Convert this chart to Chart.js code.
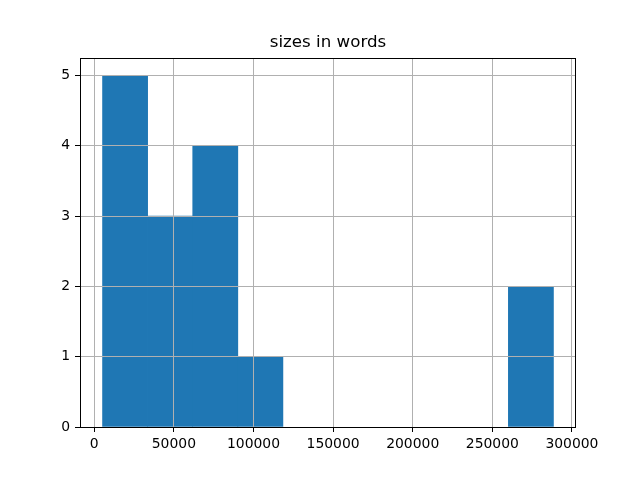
<!DOCTYPE html>
<html>
<head>
<meta charset="utf-8">
<script src="https://cdn.jsdelivr.net/npm/chart.js@4.4.1/dist/chart.umd.min.js"></script>
<style>
  html, body { margin: 0; padding: 0; background: #ffffff; }
  canvas { display: block; }
</style>
</head>
<body>
<canvas id="c" width="640" height="480"></canvas>
<script>
const chartTitle = "sizes in words";
const binEdges = [5200, 33520, 61840, 90160, 118480, 146800, 175120, 203440, 231760, 260080, 288400];
const counts = [5, 3, 4, 1, 0, 0, 0, 0, 0, 2];
const xTicks = [0, 50000, 100000, 150000, 200000, 250000, 300000];
const yTicks = [0, 1, 2, 3, 4, 5];

const barData = counts.map((c, i) => ({ x: (binEdges[i] + binEdges[i + 1]) / 2, y: c === 0 ? null : c }));
const span = binEdges[binEdges.length - 1] - binEdges[0];
const xMin = binEdges[0] - 0.05 * span;
const xMax = binEdges[binEdges.length - 1] + 0.05 * span;
const yMax = Math.max(...counts) * 1.05;

const tickFont = { family: "'DejaVu Sans'", size: 13.9 };

const frame = {
  id: 'frame',
  afterDraw(chart) {
    const a = chart.chartArea, ctx = chart.ctx;
    ctx.save();
    ctx.strokeStyle = '#000000';
    ctx.lineWidth = 1;
    ctx.strokeRect(Math.round(a.left) + 0.5, Math.round(a.top) + 0.5, Math.round(a.right - a.left) - 1, Math.round(a.bottom - a.top));
    ctx.restore();
  }
};

new Chart(document.getElementById('c'), {
  type: 'bar',
  plugins: [frame],
  data: {
    datasets: [{
      data: barData,
      backgroundColor: '#1f77b4',
      borderWidth: 0,
      barPercentage: 1.0,
      categoryPercentage: 1.0
    }]
  },
  options: {
    responsive: false,
    animation: false,
    devicePixelRatio: 1,
    layout: { padding: { left: 0, right: 64, top: 0, bottom: 0 } },
    plugins: {
      legend: { display: false },
      tooltip: { enabled: false },
      title: {
        display: true,
        fullSize: false,
        text: chartTitle,
        color: '#000000',
        font: { family: "'DejaVu Sans'", size: 16.67, weight: 'normal', lineHeight: 1.2 },
        padding: { top: 33, bottom: 5 }
      }
    },
    scales: {
      x: {
        type: 'linear',
        position: 'bottom',
        offset: false,
        min: xMin,
        max: xMax,
        afterBuildTicks: (s) => { s.ticks = xTicks.map(v => ({ value: v })); },
        afterFit: (s) => { s.height = 53; },
        ticks: {
          includeBounds: false,
          color: '#000000',
          font: tickFont,
          padding: 4,
          maxRotation: 0,
          autoSkip: false,
          callback: (v) => String(v)
        },
        grid: {
          z: 1,
          offset: false,
          color: '#b0b0b0',
          lineWidth: 1,
          drawTicks: true,
          tickLength: 5,
          tickColor: '#000000',
          tickWidth: 1
        },
        border: { display: false, z: 2 }
      },
      y: {
        type: 'linear',
        position: 'left',
        min: 0,
        max: yMax,
        afterBuildTicks: (s) => { s.ticks = yTicks.map(v => ({ value: v })); },
        afterFit: (s) => { s.width = 80; },
        ticks: {
          includeBounds: false,
          color: '#000000',
          font: tickFont,
          padding: 5,
          callback: (v) => String(v)
        },
        grid: {
          z: 1,
          color: '#b0b0b0',
          lineWidth: 1,
          drawTicks: true,
          tickLength: 5,
          tickColor: '#000000',
          tickWidth: 1
        },
        border: { display: false, z: 2 }
      }
    }
  }
});
</script>
</body>
</html>
